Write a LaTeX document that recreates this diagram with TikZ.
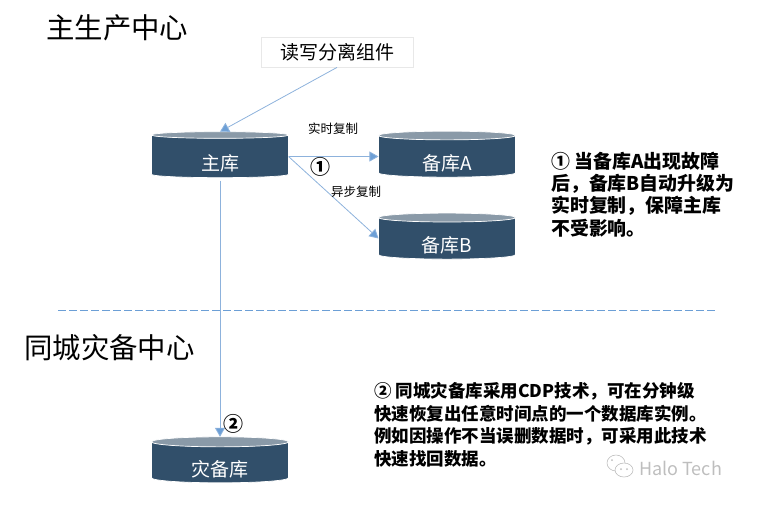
\documentclass[tikz,border=0pt]{standalone}
\usepackage{fontspec}
\setmainfont{Noto Sans CJK SC}
\definecolor{dbbody}{HTML}{314F6A}
\definecolor{dbtop}{HTML}{8A9AA8}
\definecolor{linkcolor}{HTML}{8DB2DC}
\definecolor{tipcolor}{HTML}{6C9FD6}
\definecolor{markcolor}{HTML}{BEBEBE}
\usetikzlibrary{arrows.meta, shapes.geometric, positioning, calc}
\newcommand{\dblabel}[1]{\raisebox{-14pt}[0pt][0pt]{#1}}
\tikzset{
  dbnode/.style={cylinder, shape border rotate=90, aspect=0.176, draw=white, line width=0.7pt,
    cylinder uses custom fill, cylinder body fill=dbbody, cylinder end fill=dbtop,
    minimum width=137pt, minimum height=46pt, inner sep=0pt, outer sep=0pt,
    text=white, font=\fontsize{19}{22}\selectfont},
  titletext/.style={anchor=west, inner sep=0pt, font=\fontsize{28.4}{32}\selectfont},
  notetext/.style={anchor=north west, inner sep=0pt, align=left, font=\fontsize{18.9}{22.4}\selectfont\bfseries},
  notesmall/.style={notetext, font=\fontsize{17.5}{22.4}\selectfont\bfseries},
  smalltext/.style={inner sep=0pt, font=\fontsize{12.5}{14}\selectfont},
  numtext/.style={inner sep=0pt, font=\fontsize{20}{22}\selectfont\bfseries},
  link/.style={draw=linkcolor, line width=0.8pt, -{Triangle[length=9pt, width=10pt, fill=tipcolor]}}
}
\begin{document}
\begin{tikzpicture}[x=1pt, y=-1pt]
  \useasboundingbox (0,0) rectangle (767,531);
  % titel
  \node[titletext] (titlemain) at (46,28) {主生产中心};
  \node[titletext] (titlecity) at (24,348) {同城灾备中心};
  % bovenste blok
  \node[draw=black!9, line width=0.8pt, minimum width=152pt, minimum height=30pt, inner sep=0pt,
    font=\fontsize{19}{22}\selectfont] (rwsplit) at (337,52) {读写分离组件};
  % databases
  \node[dbnode] (zhuku) at (220,156.5) {\dblabel{主库}};
  \node[dbnode] (beikuA) at (447,156.5) {\dblabel{备库A}};
  \node[dbnode] (beikuB) at (447,238.5) {\dblabel{备库B}};
  \node[dbnode] (zaibeiku) at (220,462.5) {\dblabel{灾备库}};
  % pijlen
  \draw[link] (rwsplit.south) -- (zhuku.north);
  \draw[link] (zhuku.east) -- (beikuA.west);
  \draw[link] (zhuku.east) -- (beikuB.west);
  \draw[link] ($(zhuku.south)+(0,3)$) -- (zaibeiku.north);
  \node[smalltext] (realtime) at (333,129) {实时复制};
  \node[smalltext] (async) at (356,192) {异步复制};
  \node[numtext] (numone) at (320,167) {①};
  \node[numtext] (numtwo) at (233,424) {②};
  % scheiding
  \draw[tipcolor, dashed, dash pattern=on 7.5pt off 3.5pt, line width=0.8pt] (58,310) -- (715,310);
  % toelichting
  \node[notetext] (noteone) at (551,151.5) {① 当备库A出现故障\\后，备库B自动升级为\\实时复制，保障主库\\不受影响。};
  \node[notesmall] (notetwo) at (374,382.5) {② 同城灾备库采用CDP技术，可在分钟级\\快速恢复出任意时间点的一个数据库实例。\\例如因操作不当误删数据时，可采用此技术\\快速找回数据。};
  % watermerk
  \draw[markcolor, line width=0.6pt] (616,463) ellipse (9pt and 8pt);
  \draw[markcolor, line width=0.6pt, fill=white] (624,470) ellipse (9pt and 7pt);
  \fill[markcolor] (621,469) circle (1pt) (627,469) circle (1pt) (612,460) circle (1pt);
  \node[anchor=west, inner sep=0pt, text=markcolor, font=\fontsize{18}{20}\selectfont] (haloname) at (639,468) {Halo Tech};
\end{tikzpicture}
\end{document}
